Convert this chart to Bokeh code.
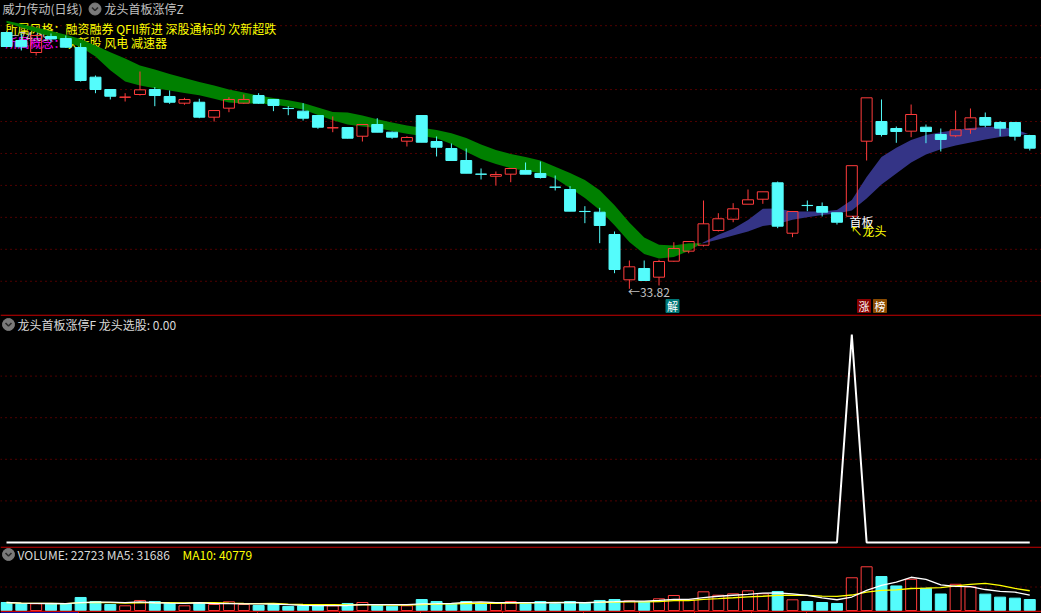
import numpy as np
import pandas as pd
from bokeh.plotting import figure
from bokeh.layouts import column
from bokeh.models import Range1d
from bokeh.core.properties import value
from bokeh.embed import file_html
from bokeh.resources import INLINE

try:
    from bokeh.models import GlobalInlineStyleSheet
    SHEETS = [GlobalInlineStyleSheet(css="html, body { background-color: #000000; }")]
except Exception:
    SHEETS = []

# ---------------- data ----------------
stock_title = "威力传动(日线)"
main_formula = "龙头首板涨停Z"
sub_formula = "龙头首板涨停F"
sub_name = "龙头选股"
style_tags = "所属风格：融资融券 QFII新进 深股通标的 次新超跌"
concept_label = "所属概念："
concept_tags = "次新股 风电 减速器"
first_board_label = "首板"
leader_label = "↖龙头"

open_ = [73.93, 72.68, 70.80, 73.31, 72.99, 71.58, 66.94, 65.01, 63.80, 64.23,
         65.01, 63.92, 62.87, 63.02, 60.68, 62.09, 62.87, 64.07, 63.45, 62.05,
         61.62, 60.94, 59.01, 59.06, 57.70, 59.53, 58.33, 56.92, 60.94, 56.87,
         55.78, 53.90, 51.77, 51.44, 51.76, 52.34, 51.87, 49.73, 49.36, 45.93,
         45.81, 42.32, 35.23, 37.00, 35.64, 38.14, 39.71, 40.64, 42.95, 44.71,
         47.06, 47.84, 50.41, 42.52, 46.87, 46.70, 45.72, 45.18, 56.92, 60.00,
         58.91, 58.49, 59.11, 57.97, 57.77, 58.80, 60.63, 59.85, 59.85, 57.81]
high = [74.09, 73.78, 73.62, 73.78, 73.46, 72.26, 67.20, 65.02, 64.43, 67.83,
        65.37, 64.86, 63.71, 63.56, 61.74, 63.81, 64.23, 64.43, 63.47, 62.40,
        62.87, 60.96, 60.79, 59.14, 59.55, 60.52, 58.44, 57.70, 60.96, 57.66,
        56.56, 55.78, 52.65, 52.18, 52.66, 53.59, 53.74, 51.55, 49.88, 46.75,
        46.50, 42.79, 38.25, 38.25, 38.36, 41.11, 41.24, 47.64, 45.65, 47.22,
        49.36, 49.02, 50.61, 45.94, 47.64, 47.33, 45.74, 53.09, 63.71, 63.45,
        59.22, 62.66, 59.53, 58.91, 61.72, 62.04, 61.41, 60.05, 59.87, 57.83]
low = [71.66, 71.12, 70.33, 72.37, 71.51, 66.26, 64.43, 63.45, 63.13, 64.07,
       62.40, 62.77, 62.62, 60.52, 60.00, 61.46, 62.77, 62.77, 61.62, 60.99,
       60.16, 58.86, 58.33, 57.34, 56.87, 58.31, 57.30, 56.09, 56.74, 54.53,
       53.88, 51.89, 50.93, 49.99, 50.50, 51.74, 51.08, 49.21, 45.95, 44.09,
       40.96, 36.26, 33.82, 35.10, 34.34, 38.05, 39.39, 40.44, 42.79, 44.24,
       47.04, 47.12, 43.31, 41.90, 45.97, 45.14, 43.88, 45.16, 53.90, 57.66,
       56.67, 57.55, 56.61, 55.31, 57.55, 58.08, 59.11, 57.70, 57.03, 55.47]
close = [71.74, 71.70, 73.46, 72.92, 71.63, 66.42, 65.01, 63.96, 63.82, 64.96,
         64.07, 63.02, 63.45, 60.68, 61.72, 63.45, 63.45, 62.87, 62.51, 62.03,
         60.52, 59.11, 59.03, 57.39, 59.53, 58.33, 57.55, 57.50, 56.76, 55.98,
         53.90, 51.91, 51.75, 51.71, 52.65, 51.76, 51.24, 49.71, 45.97, 45.91,
         43.73, 36.84, 37.26, 35.12, 38.09, 40.13, 41.22, 43.99, 44.78, 46.34,
         47.75, 49.00, 43.62, 45.92, 46.85, 45.81, 44.24, 53.09, 63.71, 57.97,
         58.44, 61.10, 58.44, 57.19, 58.70, 60.58, 59.42, 58.96, 57.70, 55.83]

# two moving lines forming the coloured band
slow_line = [75.78, 75.25, 74.71, 74.17, 73.59, 72.93, 71.90, 70.86, 69.86, 68.78,
             68.13, 67.45, 66.81, 66.20, 65.62, 65.03, 64.54, 64.09, 63.67, 63.31,
             62.90, 62.19, 61.49, 61.41, 60.94, 60.35, 59.85, 59.38, 59.02, 58.69,
             58.16, 57.41, 56.42, 55.53, 54.93, 54.43, 53.90, 52.91, 51.96, 50.83,
             49.24, 46.90, 44.21, 41.85, 40.71, 40.60, 40.96, 40.94, 41.54, 42.16,
             42.79, 43.65, 43.96, 44.62, 45.00, 45.37, 45.61, 46.08, 47.95, 50.14,
             51.87, 53.59, 54.84, 55.67, 56.25, 56.72, 57.19, 57.58, 57.81, 58.06]
fast_line = [75.45, 74.71, 73.98, 73.26, 72.49, 71.66, 70.18, 68.02, 66.26, 65.64,
             65.22, 64.86, 64.48, 64.10, 63.56, 62.99, 62.82, 62.82, 62.68, 62.32,
             61.90, 61.04, 60.19, 59.52, 59.24, 58.99, 58.53, 58.09, 57.73, 57.39,
             56.48, 55.28, 54.12, 53.35, 52.68, 52.29, 51.91, 51.08, 49.61, 48.03,
             46.17, 43.77, 41.13, 39.27, 38.55, 38.80, 39.72, 41.10, 42.29, 43.20,
             44.57, 46.34, 46.39, 45.92, 45.92, 45.92, 46.15, 47.72, 51.32, 54.45,
             55.90, 57.11, 57.88, 58.33, 58.69, 58.97, 59.14, 59.19, 58.81, 57.94]

volume = [16500, 13800, 13800, 13800, 13800, 26900, 18600, 12400, 9700, 20700,
          18600, 15100, 9700, 15900, 12400, 18000, 12400, 10300, 12400, 8300,
          9700, 9700, 9700, 14500, 16500, 11000, 8900, 9700, 22700, 18600,
          13800, 18600, 15100, 15100, 18600, 13800, 18600, 13800, 18600, 15100,
          20700, 22700, 20000, 18000, 24200, 31000, 21700, 38600, 31600, 34500,
          40700, 34500, 39300, 22100, 18600, 16500, 14500, 67600, 90300, 70200,
          50700, 64500, 45900, 34100, 54160, 48800, 33800, 27600, 25507, 22723]

leader_signal = [0, 0, 0, 0, 0, 0, 0, 0, 0, 0,
                 0, 0, 0, 0, 0, 0, 0, 0, 0, 0,
                 0, 0, 0, 0, 0, 0, 0, 0, 0, 0,
                 0, 0, 0, 0, 0, 0, 0, 0, 0, 0,
                 0, 0, 0, 0, 0, 0, 0, 0, 0, 0,
                 0, 0, 0, 0, 0, 0, 0, 1, 0, 0,
                 0, 0, 0, 0, 0, 0, 0, 0, 0, 0]

price_grid = [35, 40, 45, 50, 55, 60, 65, 70, 75]
signal_grid = [0.2, 0.4, 0.6, 0.8]
volume_grid = [48500]

# ---------------- style / geometry ----------------
BG = "#000000"
RED = "#FF3C3C"
CYAN = "#54FCFC"
GRID = "#A00000"
SEP = "#C80000"
GREEN = "#008000"
BLUE = "#343486"
GRAY = "#C0C0C0"
LIGHT = "#D8D8D8"
YELLOW = "#FFFF00"
MAGENTA = "#FF00FF"
FONT = value("Noto Sans CJK SC")

W = 1041
H_MAIN, H_MID, H_VOL = 314, 232, 67


def X(px):  # reference pixel -> bar index
    return (px - 6.0) / 14.83


def YM(py):  # reference pixel -> price
    return 78.94 - 0.1565 * py


def YI(py):  # reference pixel -> indicator value
    return (542.0 - (py - 314.0) - 314.0) / 208.0


def YV(py):  # reference pixel -> volume
    return (610.0 - py) * 2066.0


o = np.array(open_)
h = np.array(high)
l = np.array(low)
c = np.array(close)
n = len(c)
idx = np.arange(n, dtype=float)
up = c >= o
btop = np.maximum(o, c)
bbot = np.minimum(o, c)
cols = np.where(up, RED, CYAN)

xr = Range1d(X(0), X(1041))


def make_fig(height, yr):
    f = figure(width=W, height=height, x_range=xr, y_range=yr,
               x_axis_type=None, y_axis_type=None, output_backend="svg",
               toolbar_location=None, min_border=0,
               background_fill_color=BG, border_fill_color=BG,
               outline_line_color=None)
    return f


def txt(f, x, y, s, color, size="12px", align="left"):
    f.text(x=[x], y=[y], text=[s], text_color=color, text_font=FONT,
           text_font_size=size, text_baseline="middle", text_align=align)


def icon(f, px, py, yconv):
    f.scatter(x=[X(px)], y=[yconv(py)], marker="circle", size=12,
              fill_color="#7A7A7A", line_color="#7A7A7A")
    f.line(x=[X(px - 3), X(px), X(px + 3)],
           y=[yconv(py - 1.5), yconv(py + 1.5), yconv(py - 1.5)],
           line_color="#2A2A2A", line_width=1.6)


# ---------------- main price panel ----------------
pm = make_fig(H_MAIN, Range1d(YM(314), YM(0)))

pm.segment(x0=[X(0)] * len(price_grid), y0=price_grid,
           x1=[X(1041)] * len(price_grid), y1=price_grid,
           line_color=GRID, line_dash="1 4", line_width=1)

# titles and tag lines (drawn beneath the band, as in the reference)
txt(pm, X(2), YM(8), stock_title, GRAY)
icon(pm, 94.5, 8.5, YM)
txt(pm, X(104), YM(8), main_formula, GRAY)
txt(pm, X(5), YM(28), style_tags, YELLOW)
txt(pm, X(5), YM(42), concept_label, MAGENTA)
txt(pm, X(65), YM(42), concept_tags, YELLOW)

imax = int(np.argmax(h))
imin = int(np.argmin(l))
txt(pm, idx[imax] + 0.05, h[imax] - 0.7, "←%.2f" % h[imax], GRAY)
txt(pm, idx[imin] - 0.1, l[imin] - 0.35, "←%.2f" % l[imin], GRAY)

# band between the two lines, green when slow>fast, blue otherwise
fa = np.array(fast_line)
sa = np.array(slow_line)
bx, bf, bs = [], [], []
for i in range(n):
    bx.append(float(i)); bf.append(fa[i]); bs.append(sa[i])
    if i < n - 1:
        d0 = fa[i] - sa[i]
        d1 = fa[i + 1] - sa[i + 1]
        if d0 * d1 < 0:
            t = d0 / (d0 - d1)
            yc = fa[i] + t * (fa[i + 1] - fa[i])
            bx.append(i + t); bf.append(yc); bs.append(yc)
bx = np.array(bx); bf = np.array(bf); bs = np.array(bs)
pm.varea(x=bx, y1=bf, y2=np.where(bs > bf, bs, bf), fill_color=GREEN)
pm.varea(x=bx, y1=bs, y2=np.where(bf > bs, bf, bs), fill_color=BLUE)

# candles
pm.segment(x0=idx, y0=btop, x1=idx, y1=h, line_color=cols, line_width=1)
pm.segment(x0=idx, y0=l, x1=idx, y1=bbot, line_color=cols, line_width=1)
pm.vbar(x=idx[up], width=0.74, top=btop[up], bottom=bbot[up],
        fill_alpha=0, line_color=RED, line_width=1)
pm.vbar(x=idx[~up], width=0.74, top=btop[~up], bottom=bbot[~up],
        fill_color=CYAN, line_color=CYAN, line_width=1)

# first-board markers
txt(pm, X(849), YM(221), first_board_label, "#FFFFFF")
txt(pm, X(850), YM(229.5), leader_label, YELLOW)

# info-mine boxes
for (x0, x1, bg, s) in [(665.5, 678.5, "#007878", "解"),
                        (857, 870, "#8A0000", "涨"),
                        (873, 886, "#8A4A00", "榜")]:
    pm.quad(left=[X(x0)], right=[X(x1)], top=[YM(299)], bottom=[YM(312)],
            fill_color=bg, line_color=bg)
    txt(pm, X((x0 + x1) / 2), YM(305.5), s, "#FFFFFF", size="11px", align="center")

# ---------------- indicator panel ----------------
pi = make_fig(H_MID, Range1d(YI(546), YI(314)))
pi.segment(x0=[X(0)] * len(signal_grid), y0=signal_grid,
           x1=[X(1041)] * len(signal_grid), y1=signal_grid,
           line_color=GRID, line_dash="1 4", line_width=1)
pi.segment(x0=[X(0)], y0=[YI(314.7)], x1=[X(1041)], y1=[YI(314.7)],
           line_color=SEP, line_width=1.3)
pi.line(x=idx, y=leader_signal, line_color="#FFFFFF", line_width=2)
icon(pi, 8, 324, YI)
txt(pi, X(17), YI(324), "%s  %s: %.2f" % (sub_formula, sub_name, leader_signal[-1]), LIGHT)

# ---------------- volume panel ----------------
pv = make_fig(H_VOL, Range1d(YV(613), YV(546)))
vol = np.array(volume, dtype=float)
ma5 = pd.Series(vol).rolling(5, min_periods=1).mean().values
ma10 = pd.Series(vol).rolling(10, min_periods=1).mean().values

pv.segment(x0=[X(0)], y0=[YV(546.7)], x1=[X(1041)], y1=[YV(546.7)],
           line_color=SEP, line_width=1.3)
pv.segment(x0=[X(0)] * len(volume_grid), y0=volume_grid,
           x1=[X(1041)] * len(volume_grid), y1=volume_grid,
           line_color=GRID, line_dash="1 4", line_width=1)
pv.vbar(x=idx[up], width=0.74, top=vol[up], bottom=0,
        fill_alpha=0, line_color=RED, line_width=1)
pv.vbar(x=idx[~up], width=0.74, top=vol[~up], bottom=0,
        fill_color=CYAN, line_color=CYAN, line_width=1)
pv.line(x=idx, y=ma10, line_color=YELLOW, line_width=1.3)
pv.line(x=idx, y=ma5, line_color="#FFFFFF", line_width=1.3)

# date axis strip
pv.segment(x0=[X(0)], y0=[YV(610.8)], x1=[X(1041)], y1=[YV(610.8)],
           line_color=SEP, line_width=1.2)
pv.quad(left=[X(0)], right=[X(78)], top=[YV(611.5)], bottom=[YV(613)],
        fill_color="#1010A0", line_color=None)
for tx in [78, 257, 339, 420, 502, 583, 639, 694, 751, 806]:
    pv.segment(x0=[X(tx)], y0=[YV(611)], x1=[X(tx)], y1=[YV(613)],
               line_color=SEP, line_width=1)

icon(pv, 8, 554, YV)
txt(pv, X(17), YV(554), "VOLUME: %d  MA5: %d" % (int(vol[-1]), int(round(ma5[-1]))), LIGHT)
txt(pv, X(182), YV(554), "MA10: %d" % int(round(ma10[-1])), YELLOW)

layout = column(pm, pi, pv, spacing=0, stylesheets=SHEETS)
with open("out.html", "w", encoding="utf-8") as fh:
    fh.write(file_html(layout, INLINE, title="威力传动"))
